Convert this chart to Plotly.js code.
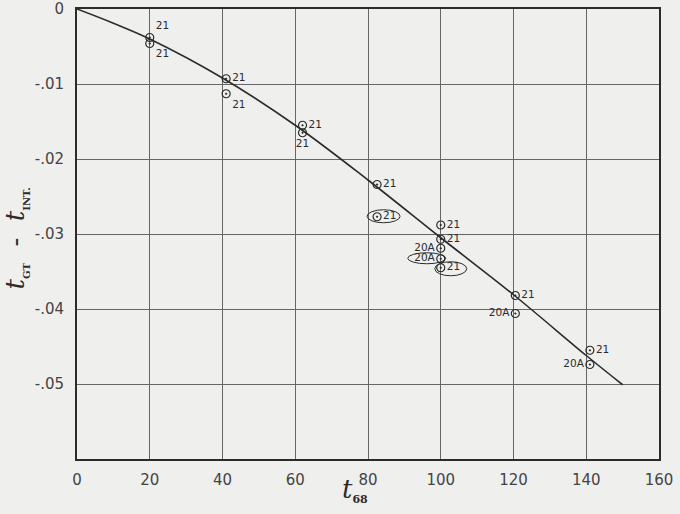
<!DOCTYPE html>
<html><head><meta charset="utf-8">
<script src="https://cdn.plot.ly/plotly-3.0.1.min.js"></script>
<style>body{margin:0;background:#efefee}</style></head>
<body><div id="chart" style="width:680px;height:514px"></div>
<script>
// smooth curve
const curveX = [0, 10, 20, 40, 60, 80, 100, 120, 140, 150];
const curveY = [0, -0.0019, -0.0040, -0.0092, -0.0155, -0.0228, -0.0305, -0.0381, -0.0462, -0.0501];
// observations
const ptX = [20, 20, 41, 41, 62, 62, 82.5, 82.5, 100, 100, 100, 100, 100, 120.5, 120.5, 141, 141];
const ptY = [-0.0038, -0.0046, -0.0093, -0.0113, -0.0155, -0.0165, -0.0234, -0.0277, -0.0288, -0.0307, -0.0319, -0.0333, -0.0345, -0.0382, -0.0406, -0.0455, -0.0474];
const ptLabel = ["21","21","21","21","21","21","21","21","21","21","20A","20A","21","21","20A","21","20A"];
const ptPos = ["top right","bottom right","middle right","bottom right","middle right","bottom center","middle right","middle right","middle right","middle right","middle left","middle left","middle right","middle right","middle left","middle right","middle left"];
const circledIdx = [7, 11, 12];
const xTicks = [0, 20, 40, 60, 80, 100, 120, 140, 160];
const yTicks = [0, -0.01, -0.02, -0.03, -0.04, -0.05];
const yTickText = ["0", "-.01", "-.02", "-.03", "-.04", "-.05"];
const xTitle = "<i>t</i><sub><span style='font-size:11px;font-weight:bold'>68</span></sub>";
const yTitle = "<i>t</i><sub><span style='font-size:10px;font-weight:bold'>GT</span></sub>  -  <i>t</i><sub><span style='font-size:10px;font-weight:bold'>INT.</span></sub>";

const ink = "#2b2b2b";
const traces = [
  {x: curveX, y: curveY, mode: "lines", line: {color: ink, width: 1.6, shape: "spline", smoothing: 1}, hoverinfo: "skip"},
  {x: ptX, y: ptY, mode: "markers+text", text: ptLabel, textposition: ptPos,
   textfont: {family: "DejaVu Sans", size: 10.5, color: ink},
   marker: {symbol: "circle-open-dot", size: 8, color: ink, line: {color: ink, width: 1.2}}}
];
// ellipse pixel offsets around circled points: [x0,x1,y0,y1]
const ellOff = [[-10, 23, -6, 7], [-33, 5, -5, 6], [-6, 26, -8, 6]];
const shapes = circledIdx.map((k, i) => ({
  type: "circle", xref: "x", yref: "y", xsizemode: "pixel", ysizemode: "pixel",
  xanchor: ptX[k], yanchor: ptY[k],
  x0: ellOff[i][0], x1: ellOff[i][1], y0: ellOff[i][2], y1: ellOff[i][3],
  line: {color: ink, width: 1}
}));
const layout = {
  width: 680, height: 514,
  margin: {l: 77, r: 21, t: 9, b: 55},
  paper_bgcolor: "#efefee", plot_bgcolor: "#efefee",
  showlegend: false,
  font: {family: "DejaVu Sans", color: ink},
  shapes: shapes,
  annotations: [
    {text: xTitle, xref: "paper", yref: "paper", x: 0.478, y: -0.108, showarrow: false,
     font: {size: 26, family: "DejaVu Serif", color: ink}},
    {text: yTitle, xref: "paper", yref: "paper", x: -0.135, y: 0.49, textangle: -90, showarrow: false,
     font: {size: 26, family: "DejaVu Serif", color: ink}}
  ],
  xaxis: {range: [0, 160], tickvals: xTicks, ticktext: xTicks.map(String),
    showgrid: true, gridcolor: "#666", gridwidth: 1, zeroline: false,
    showline: true, linecolor: ink, linewidth: 2, mirror: true,
    ticks: "outside", ticklen: 6, tickcolor: "rgba(0,0,0,0)", ticklabeloverflow: "allow",
    tickfont: {size: 15, family: "DejaVu Sans", color: "#444"}},
  yaxis: {range: [-0.06, 0], tickvals: yTicks, ticktext: yTickText,
    showgrid: true, gridcolor: "#666", gridwidth: 1, zeroline: false,
    showline: true, linecolor: ink, linewidth: 2, mirror: true,
    ticks: "outside", ticklen: 8, tickcolor: "rgba(0,0,0,0)", ticklabeloverflow: "allow",
    tickfont: {size: 15, family: "DejaVu Sans", color: "#444"}}
};
Plotly.newPlot("chart", traces, layout, {displayModeBar: false, staticPlot: true});
</script></body></html>
